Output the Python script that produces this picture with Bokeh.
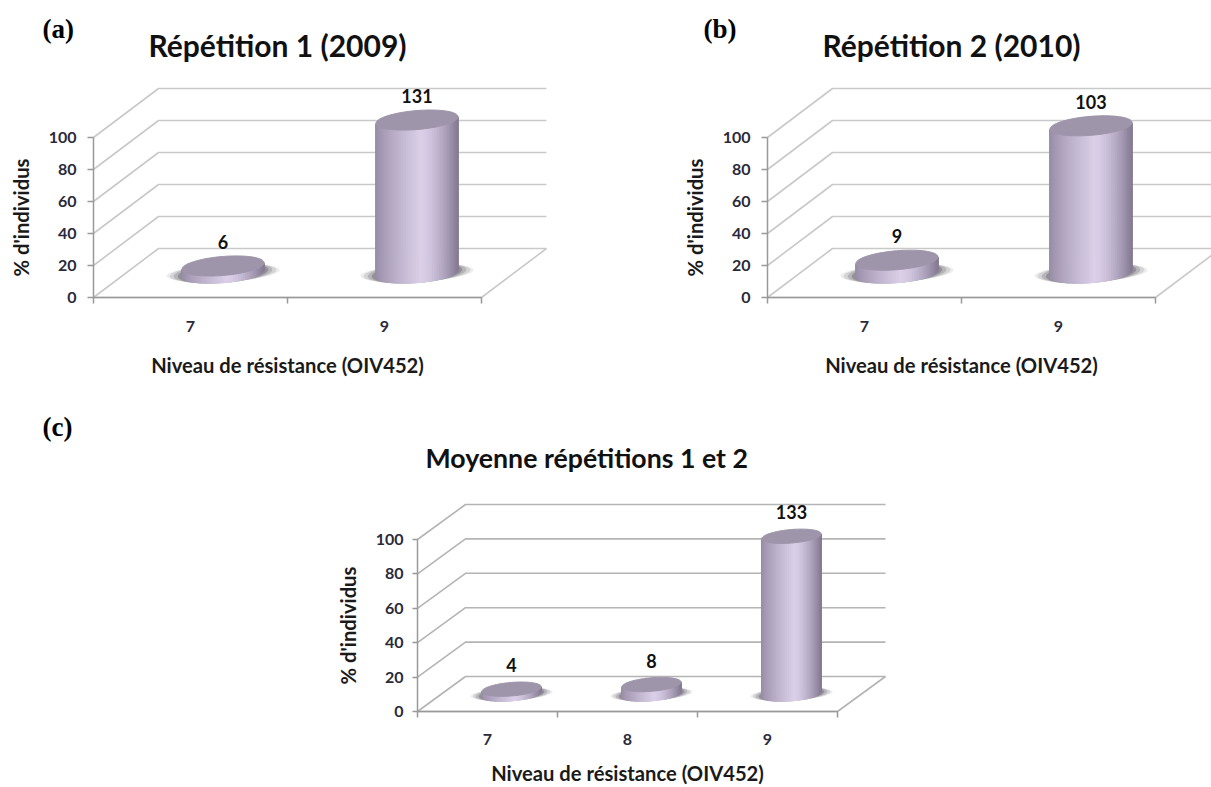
import math
from bokeh.plotting import figure
from bokeh.layouts import column, row
from bokeh.models import FixedTicker, Label
from bokeh.core.properties import value
from bokeh.embed import file_html
from bokeh.resources import INLINE

# Data
cats_a = ["7", "9"]
pct_a = [4.4, 95.6]
counts_a = ["6", "131"]
title_a = "Répétition 1 (2009)"

cats_b = ["7", "9"]
pct_b = [8.0, 92.0]
counts_b = ["9", "103"]
title_b = "Répétition 2 (2010)"

cats_c = ["7", "8", "9"]
pct_c = [2.8, 5.5, 91.7]
counts_c = ["4", "8", "133"]
title_c = "Moyenne répétitions 1 et 2"

y_ticks = [0, 20, 40, 60, 80, 100]
x_title = "Niveau de résistance (OIV452)"
y_title = "% d'individus"

FONT = "Lato"
SERIF = "Liberation Serif"
EDGE_L = (150, 139, 165)
MID = (219, 207, 232)
EDGE_R = (134, 123, 148)
TOP_COL = "#9f95ab"


def mix(a, b, f):
    return tuple(int(round(a[i] + (b[i] - a[i]) * f)) for i in range(3))


def hexc(c):
    return "#%02x%02x%02x" % c


def shade(f):
    # f: 0 left edge, 1 right edge
    if f < 0.55:
        return hexc(mix(EDGE_L, MID, (f / 0.55) ** 0.8))
    return hexc(mix(MID, EDGE_R, ((f - 0.55) / 0.45) ** 1.5))


def panel(cats, vals, counts, title, tag, g):
    n = len(cats)
    fw, fh = g["fw"], g["fh"]
    W = g["left"] + fw + g["right"]
    H = g["top"] + fh + g["bottom"]
    p = figure(width=W, height=H, output_backend="svg", toolbar_location=None,
               x_range=(-g["left"] / g["sp"], (fw + g["right"]) / g["sp"]),
               y_range=(-g["bottom"] / g["pu"], (fh + g["top"]) / g["pu"]),
               min_border_left=0, min_border_right=0,
               min_border_top=0, min_border_bottom=0,
               outline_line_color=None, background_fill_color="white",
               border_fill_color="white")
    p.grid.visible = False
    DX = g["dx"] / g["sp"]
    DY = g["dy"] / g["pu"]

    def proj(u, d, v):
        return u + d * DX, v + d * DY

    # walls and floor
    gc = g["grid"]
    for v in y_ticks:
        a = proj(0, 0, v); b = proj(0, 1, v); c = proj(n, 1, v)
        p.line([a[0], b[0], c[0]], [a[1], b[1], c[1]], line_color=gc, line_width=1.6)
    a = proj(0, 0, 0); b = proj(n, 0, 0); c = proj(n, 1, 0)
    p.line([a[0], b[0], c[0]], [a[1], b[1], c[1]], line_color=gc, line_width=1.6)

    R_U = g["ru"]
    R_D = 0.205
    ts = [2 * math.pi * i / 72 for i in range(72)]
    t_ext = math.atan2(R_D * DX, R_U)  # parameter of the rightmost point

    for i, val in enumerate(vals):
        cu = i + 0.5
        base = proj(cu, 0.5, 0)

        def ell(t, v, sx=1.0, sy=1.0):
            x, y = proj(R_U * math.cos(t), R_D * math.sin(t), 0)
            return base[0] + sx * x, base[1] + v + sy * y

        # soft shadow on the floor
        for sx, sy, al in [(1.38, 0.9, 0.10), (1.3, 0.98, 0.16), (1.2, 1.03, 0.24), (1.1, 1.06, 0.36)]:
            pts = [ell(t, 0, sx, sy) for t in ts]
            p.patch([q[0] for q in pts], [q[1] for q in pts], fill_color="#55505a",
                    fill_alpha=al, line_color=None)

        # cylinder body as vertical strips along the front half
        N = 48
        xs, ys, cols = [], [], []
        for k in range(N):
            t0 = math.pi + t_ext + (math.pi * k / N)
            t1 = math.pi + t_ext + (math.pi * (k + 1) / N)
            a0 = ell(t0, 0); a1 = ell(t1, 0); b1 = ell(t1, val); b0 = ell(t0, val)
            xs.append([a0[0], a1[0], b1[0], b0[0]])
            ys.append([a0[1], a1[1], b1[1], b0[1]])
            f = (1 - math.cos(math.pi * (k + 0.5) / N)) / 2
            cols.append(shade(f))
        p.patches(xs, ys, fill_color=cols, line_color=cols, line_width=1.4)

        # top face
        pts = [ell(t, val) for t in ts]
        p.patch([q[0] for q in pts], [q[1] for q in pts], fill_color=TOP_COL, line_color=TOP_COL)

        # value label
        p.text([base[0]], [val + base[1]], text=[counts[i]], text_font=value(FONT),
               text_font_style="bold", text_font_size="18px", text_color="#111111",
               text_align="center", text_baseline="middle", y_offset=-g["lab"])

    # axes, pinned at the origin so the plotting area spans the whole figure
    xa = p.xaxis[0]
    xa.fixed_location = 0
    xa.bounds = (0, n)
    xa.ticker = FixedTicker(ticks=[i + 0.5 for i in range(n)],
                            minor_ticks=list(range(n + 1)))
    xa.major_label_overrides = {i + 0.5: cats[i] for i in range(n)}
    xa.major_tick_line_color = None
    xa.major_tick_in = 0
    xa.major_tick_out = 0
    xa.minor_tick_in = 0
    xa.minor_tick_out = 6
    xa.minor_tick_line_color = "#999999"
    xa.minor_tick_line_width = 1.5
    xa.axis_line_color = "#999999"
    xa.axis_line_width = 1.5
    xa.major_label_standoff = g["xstand"]
    xa.axis_label = x_title
    xa.axis_label_standoff = g["xlab"]

    ya = p.yaxis[0]
    ya.fixed_location = 0
    ya.bounds = (0, 100)
    ya.ticker = FixedTicker(ticks=y_ticks)
    ya.minor_tick_line_color = None
    ya.major_tick_in = 0
    ya.major_tick_out = g["yout"]
    ya.major_tick_line_color = "#999999"
    ya.major_tick_line_width = 1.5
    ya.axis_line_color = "#999999"
    ya.axis_line_width = 1.5
    ya.major_label_standoff = g["ystand"]
    ya.axis_label = y_title
    ya.axis_label_standoff = g["ylab"]

    for ax in (xa, ya):
        ax.major_label_text_font = FONT
        ax.major_label_text_font_size = "16px"
        ax.major_label_text_font_style = "bold"
        ax.major_label_text_color = "#2a2a3a"
        ax.axis_label_text_font = FONT
        ax.axis_label_text_font_size = "20.2px"
        ax.axis_label_text_font_style = "bold"
        ax.axis_label_text_color = "#1a1a1a"

    # chart title and panel tag
    p.add_layout(Label(x=g["tx"], y=H - g["ty"], x_units="screen", y_units="screen",
                       text=title, text_font=FONT, text_font_style="bold",
                       text_font_size=g["tsize"], text_color="#111111",
                       text_baseline="alphabetic", text_align="left"))
    p.add_layout(Label(x=g["tagx"], y=H - g["tagy"], x_units="screen", y_units="screen",
                       text=tag, text_font=SERIF, text_font_style="bold",
                       text_font_size="27px", text_color="#000000",
                       text_baseline="middle", text_align="left"))
    return p


geo_a = dict(left=93, right=52, top=85, bottom=98, fw=453, fh=212, sp=194.0, pu=1.6,
             dx=65, dy=49, ru=0.2, lab=24, grid="#c9c9c9", xstand=17, xlab=18, ylab=13,
             yout=6, ystand=11, tsize="30px", tx=148, ty=44, tagx=42, tagy=28)
geo_b = dict(left=169, right=0, top=85, bottom=98, fw=444, fh=212, sp=194.0, pu=1.6,
             dx=65, dy=49, ru=0.2, lab=24, grid="#c9c9c9", xstand=17, xlab=18, ylab=13,
             yout=6, ystand=11, tsize="30px", tx=224, ty=44, tagx=105, tagy=28)
geo_c = dict(left=417, right=325, top=106, bottom=76, fw=469, fh=210, sp=140.0, pu=1.72,
             dx=48, dy=35, ru=0.2, lab=24, grid="#b4b4b4", xstand=16, xlab=13, ylab=13,
             yout=5, ystand=9, tsize="26.7px", tx=425, ty=62, tagx=42, tagy=31)

p_a = panel(cats_a, pct_a, counts_a, title_a, "(a)", geo_a)
p_b = panel(cats_b, pct_b, counts_b, title_b, "(b)", geo_b)
p_c = panel(cats_c, pct_c, counts_c, title_c, "(c)", geo_c)

page = column(row(p_a, p_b), p_c)
open("out.html", "w").write(file_html(page, INLINE))
